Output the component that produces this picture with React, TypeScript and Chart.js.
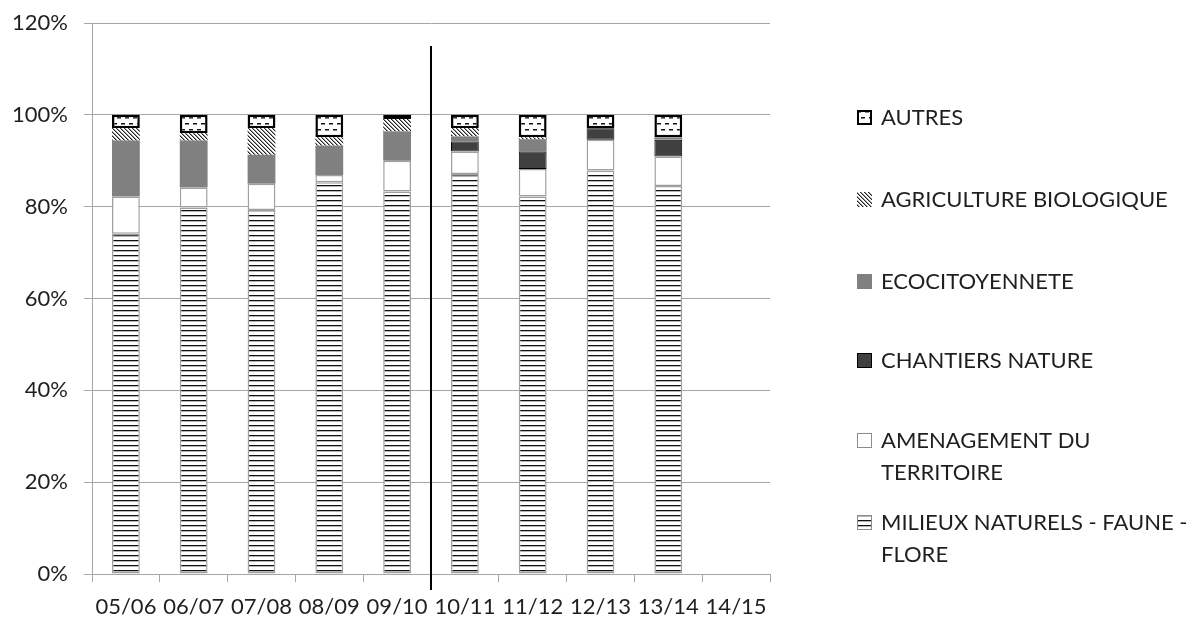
import React, { useEffect, useRef } from 'react';
import { Chart, registerables } from 'chart.js';

Chart.register(...registerables);

const categories = ['05/06', '06/07', '07/08', '08/09', '09/10', '10/11', '11/12', '12/13', '13/14', '14/15'];
const milieux = [74.1, 79.8, 79.3, 85.3, 83.3, 87.1, 82.2, 87.9, 84.5, null];
const amenagement = [8.1, 4.4, 5.7, 1.6, 6.7, 4.9, 6.0, 6.7, 6.4, null];
const chantiers = [0, 0, 0, 0, 0, 2.2, 3.8, 2.5, 3.7, null];
const ecocitoyennete = [12.2, 10.2, 6.3, 6.4, 6.4, 1.1, 2.7, 0, 0.5, null];
const agriculture = [2.7, 1.6, 5.8, 1.8, 2.7, 1.8, 0.4, 0, 0, null];
const autres = [2.9, 4.0, 2.9, 4.9, 0.9, 2.9, 4.9, 2.9, 4.9, null];
const yTicks = [0, 20, 40, 60, 80, 100, 120];

const FONT = 'Lato, "Open Sans", sans-serif';
const TEXT = '#1f1f1f';
const GRID = '#a6a6a6';

function tile(w: number, h: number, draw: (c: CanvasRenderingContext2D) => void): CanvasPattern | string {
  const cv = document.createElement('canvas');
  cv.width = w;
  cv.height = h;
  const c = cv.getContext('2d');
  if (!c) return '#fff';
  c.fillStyle = '#fff';
  c.fillRect(0, 0, w, h);
  draw(c);
  const p = c.createPattern(cv, 'repeat');
  return p || '#fff';
}

export default function App() {
  const ref = useRef<HTMLCanvasElement | null>(null);

  useEffect(() => {
    document.body.style.margin = '0';
    const canvas = ref.current;
    if (!canvas) return;

    const hLines = tile(8, 5, (c) => {
      c.fillStyle = '#111';
      c.fillRect(0, 0, 8, 1);
      c.fillStyle = '#b5b5b5';
      c.fillRect(0, 1, 8, 1);
    });
    const diag = tile(4, 4, (c) => {
      c.fillStyle = '#222';
      for (let i = 0; i < 4; i++) {
        c.fillRect(i, i, 1, 1);
      }
      c.fillStyle = '#9a9a9a';
      for (let i = 0; i < 4; i++) {
        c.fillRect((i + 1) % 4, i, 1, 1);
      }
    });
    const dashes = tile(8, 12, (c) => {
      c.fillStyle = '#111';
      c.fillRect(1, 3, 4, 1.5);
      c.fillRect(5, 9, 3, 1.5);
      c.fillRect(0, 9, 1, 1.5);
    });

    const legendItems = [
      { text: ['AUTRES'], fill: dashes, stroke: '#000', lw: 2, y: 118 },
      { text: ['AGRICULTURE BIOLOGIQUE'], fill: diag, stroke: null, lw: 0, y: 200 },
      { text: ['ECOCITOYENNETE'], fill: '#808080', stroke: null, lw: 0, y: 282 },
      { text: ['CHANTIERS NATURE'], fill: '#404040', stroke: '#000', lw: 1, y: 361 },
      { text: ['AMENAGEMENT DU', 'TERRITOIRE'], fill: '#fff', stroke: '#8c8c8c', lw: 1, y: 441 },
      { text: ['MILIEUX NATURELS - FAUNE -', 'FLORE'], fill: hLines, stroke: '#8c8c8c', lw: 1, y: 523 },
    ];

    const extras = {
      id: 'extras',
      afterDatasetsDraw(chart: any) {
        const ctx = chart.ctx;
        const x = chart.scales.x;
        const y = chart.scales.y;
        const sx = (x.getPixelForValue(4) + x.getPixelForValue(5)) / 2;
        ctx.save();
        ctx.strokeStyle = '#000';
        ctx.lineWidth = 2;
        ctx.beginPath();
        ctx.moveTo(sx, y.getPixelForValue(115));
        ctx.lineTo(sx, y.getPixelForValue(0) + 16);
        ctx.stroke();
        ctx.restore();
      },
      afterDraw(chart: any) {
        const ctx = chart.ctx;
        ctx.save();
        ctx.font = '22px ' + FONT;
        ctx.textBaseline = 'middle';
        ctx.textAlign = 'left';
        legendItems.forEach((it) => {
          const bx = 857;
          const by = it.y - 8;
          ctx.fillStyle = it.fill as any;
          ctx.fillRect(bx, by, 15, 15);
          if (it.stroke) {
            ctx.strokeStyle = it.stroke;
            ctx.lineWidth = it.lw;
            ctx.strokeRect(bx + it.lw / 2, by + it.lw / 2, 15 - it.lw, 15 - it.lw);
          }
          ctx.fillStyle = TEXT;
          it.text.forEach((t, i) => {
            ctx.fillText(t, 881, it.y + i * 32);
          });
        });
        ctx.restore();
      },
    };

    const chart = new Chart(canvas, {
      type: 'bar',
      data: {
        labels: categories,
        datasets: [
          { label: 'MILIEUX NATURELS - FAUNE - FLORE', data: milieux, backgroundColor: hLines as any, borderColor: '#a0a0a0', borderWidth: 1.5, borderSkipped: false },
          { label: 'AMENAGEMENT DU TERRITOIRE', data: amenagement, backgroundColor: '#fff', borderColor: '#a0a0a0', borderWidth: 1.5, borderSkipped: false },
          { label: 'CHANTIERS NATURE', data: chantiers, backgroundColor: '#404040', borderColor: '#000', borderWidth: 1, borderSkipped: false },
          { label: 'ECOCITOYENNETE', data: ecocitoyennete, backgroundColor: '#808080', borderWidth: 0 },
          { label: 'AGRICULTURE BIOLOGIQUE', data: agriculture, backgroundColor: diag as any, borderWidth: 0 },
          { label: 'AUTRES', data: autres, backgroundColor: dashes as any, borderColor: '#000', borderWidth: 2.5, borderSkipped: false },
        ],
      },
      options: {
        responsive: false,
        animation: false,
        devicePixelRatio: 1,
        layout: { padding: { left: 0, right: 432, top: 23, bottom: 0 } },
        plugins: { legend: { display: false }, tooltip: { enabled: false } },
        datasets: { bar: { barPercentage: 0.41, categoryPercentage: 1 } },
        scales: {
          x: {
            stacked: true,
            afterFit(scale: any) { scale.height = 45; scale.paddingLeft = 0; scale.paddingRight = 0; },
            grid: { display: true, drawOnChartArea: false, drawTicks: true, tickLength: 8, color: GRID, offset: true },
            border: { display: true, color: GRID, width: 1 },
            ticks: { color: TEXT, font: { family: FONT, size: 22 }, padding: 12, maxRotation: 0, autoSkip: false },
          },
          y: {
            stacked: true,
            min: 0,
            max: 120,
            afterFit(scale: any) { scale.width = 92; scale.paddingTop = 0; scale.paddingBottom = 0; },
            afterBuildTicks(scale: any) { scale.ticks = yTicks.map((v) => ({ value: v })); },
            grid: { color: GRID, tickLength: 8, drawTicks: true },
            border: { display: true, color: GRID, width: 1 },
            ticks: { color: TEXT, font: { family: FONT, size: 22 }, padding: 16, callback: (v: any) => v + '%' },
          },
        },
      },
      plugins: [extras],
    });

    return () => chart.destroy();
  }, []);

  return <canvas ref={ref} width={1202} height={619} style={{ display: 'block', width: 1202, height: 619 }} />;
}
